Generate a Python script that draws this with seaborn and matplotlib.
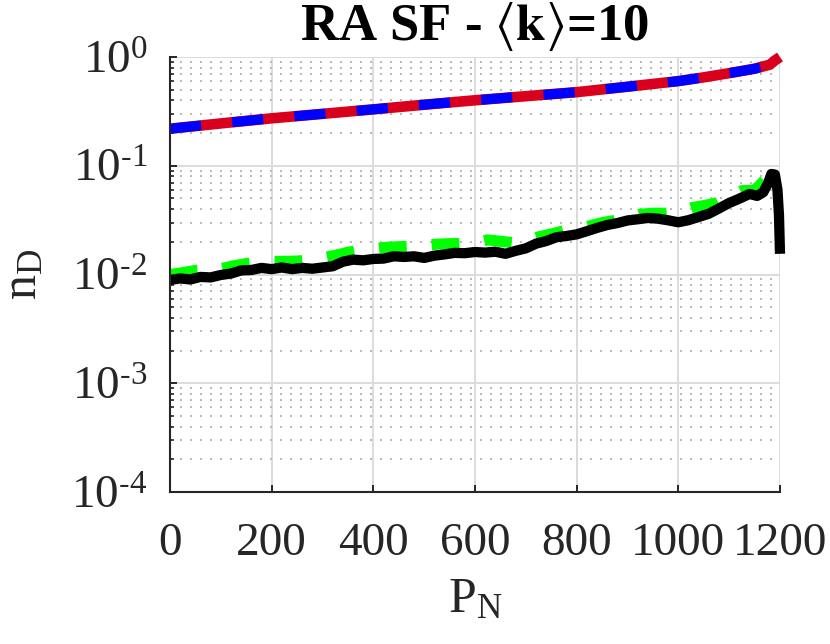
import matplotlib
matplotlib.use("Agg")
import matplotlib.pyplot as plt
import seaborn as sns
from matplotlib.ticker import LogLocator, NullLocator, FixedLocator

# upper pair (solid red with blue dashes on top, same curve)
x_top = [0, 100, 200, 300, 400, 500, 600, 700, 800, 900, 1000, 1050, 1100, 1150, 1180, 1190, 1200]
red_vals = [0.219, 0.245, 0.273, 0.300, 0.330, 0.364, 0.400, 0.436, 0.475, 0.533, 0.600,
            0.650, 0.710, 0.780, 0.850, 0.930, 1.0]
blue_vals = list(red_vals)

# lower pair: noisy black curve and dashed green envelope
x_black = [0, 20, 40, 60, 80, 100, 120, 140, 160, 180, 200, 220, 240, 260, 280, 300, 320,
           340, 360, 380, 400, 420, 440, 460, 480, 500, 520, 540, 560, 580, 600, 620, 640,
           660, 680, 700, 720, 740, 760, 780, 800, 820, 840, 860, 880, 900, 920, 940, 960,
           980, 1000, 1020, 1040, 1060, 1080, 1100, 1120, 1140, 1155, 1167, 1177, 1183,
           1190, 1195, 1198, 1200]
black_vals = [0.0089, 0.0092, 0.0090, 0.0095, 0.0094, 0.0099, 0.0102, 0.0109, 0.0110, 0.0115,
              0.0112, 0.0116, 0.0112, 0.0115, 0.0113, 0.0116, 0.0119, 0.0131, 0.0137, 0.0135,
              0.0139, 0.0140, 0.0147, 0.0145, 0.0147, 0.0142, 0.0149, 0.0153, 0.0158, 0.0157,
              0.0161, 0.0159, 0.0162, 0.0155, 0.0165, 0.0174, 0.0192, 0.0203, 0.0220, 0.0226,
              0.0234, 0.0250, 0.0268, 0.0285, 0.0297, 0.0314, 0.0322, 0.0331, 0.0326, 0.0315,
              0.0302, 0.0316, 0.0338, 0.0362, 0.0405, 0.0455, 0.0498, 0.0550, 0.0528, 0.0570,
              0.0700, 0.0840, 0.0830, 0.0600, 0.0350, 0.0155]
x_green = [0, 25, 50, 75, 100, 125, 150, 175, 200, 225, 250, 275, 300, 325, 350, 375, 400,
           425, 450, 475, 500, 525, 550, 575, 600, 625, 650, 675, 700, 725, 750, 775, 800,
           825, 850, 875, 900, 925, 950, 975, 1000, 1025, 1050, 1075, 1100, 1125, 1150,
           1175, 1195]
green_vals = [0.0100, 0.0104, 0.0109, 0.0111, 0.0113, 0.0120, 0.0126, 0.0130, 0.0132, 0.0132,
              0.0133, 0.0136, 0.0142, 0.0150, 0.0160, 0.0167, 0.0172, 0.0178, 0.0180, 0.0182,
              0.0186, 0.0190, 0.0192, 0.0193, 0.0197, 0.0208, 0.0202, 0.0196, 0.0205, 0.0222,
              0.0236, 0.0252, 0.0262, 0.0280, 0.0300, 0.0314, 0.0330, 0.0358, 0.0366, 0.0366,
              0.0375, 0.0410, 0.0430, 0.0455, 0.0520, 0.0590, 0.0595, 0.0780, 0.0870]

y_ticks = [1e-4, 1e-3, 1e-2, 1e-1, 1e0]
y_ticklabels = [r'$\mathregular{10^{\text{-}4}}$', r'$\mathregular{10^{\text{-}3}}$',
                r'$\mathregular{10^{\text{-}2}}$', r'$\mathregular{10^{\text{-}1}}$',
                r'$\mathregular{10^{0}}$']
x_ticks = [0, 200, 400, 600, 800, 1000, 1200]

sns.set_style("white")
plt.rcParams['font.family'] = ['Liberation Serif', 'DejaVu Serif']
plt.rcParams['mathtext.fontset'] = 'stix'
plt.rcParams['lines.scale_dashes'] = False
plt.rcParams['lines.solid_capstyle'] = 'butt'

fig = plt.figure(figsize=(8.3, 6.44), dpi=100)
ax = fig.add_axes([170 / 830, 1 - 492 / 644, 610 / 830, 435 / 644])

sns.lineplot(x=x_top, y=red_vals, ax=ax, color='#D9001E', lw=7.6,
             estimator=None, sort=False, clip_on=False)
sns.lineplot(x=x_top, y=blue_vals, ax=ax, color='#0000FF', lw=7.2,
             estimator=None, sort=False, clip_on=False, ls=(0, (22.5, 22.5)))
sns.lineplot(x=x_green, y=green_vals, ax=ax, color='#00FF00', lw=8.0,
             estimator=None, sort=False, clip_on=False, ls=(0, (20, 18)))
sns.lineplot(x=x_black, y=black_vals, ax=ax, color='black', lw=7.4,
             estimator=None, sort=False, clip_on=False)

ax.set_yscale('log')
ax.set_xlim(0, 1200)
ax.set_ylim(1e-4, 1e0)
ax.xaxis.set_major_locator(FixedLocator(x_ticks))
ax.xaxis.set_minor_locator(NullLocator())
ax.yaxis.set_major_locator(FixedLocator(y_ticks))
ax.yaxis.set_minor_locator(LogLocator(base=10, subs=[2, 3, 4, 5, 6, 7, 8, 9], numticks=20))
ax.set_yticklabels(y_ticklabels)

ax.set_axisbelow(True)
ax.grid(which='major', axis='both', color='#DCDCDC', lw=1.4, ls='-')
ax.grid(which='minor', axis='y', color='#B8B8B8', lw=1.4, ls=(0, (1.4, 5.8)))

for s in ['top', 'right']:
    ax.spines[s].set_visible(False)
for s in ['left', 'bottom']:
    ax.spines[s].set_color('#262626')
    ax.spines[s].set_linewidth(1.5)

ax.tick_params(which='major', direction='in', length=5, width=1.4, colors='#262626',
               labelsize=34, left=True, bottom=True)
ax.tick_params(which='minor', direction='in', length=2.6, width=1.2, colors='#262626',
               left=True, bottom=False)
ax.tick_params(axis='x', pad=22)
ax.tick_params(axis='y', pad=16)

ax.set_xlabel(r'$\mathregular{P_N}$', fontsize=36, color='#262626', labelpad=8)
ax.set_ylabel(r'$\mathregular{n_D}$', fontsize=36, color='#262626', labelpad=17)
ax.set_title(r'RA SF - $\langle\mathbf{k}\rangle$=10', fontsize=38, fontweight='bold',
             color='black', pad=12)

fig.savefig('out.png', dpi=100)
